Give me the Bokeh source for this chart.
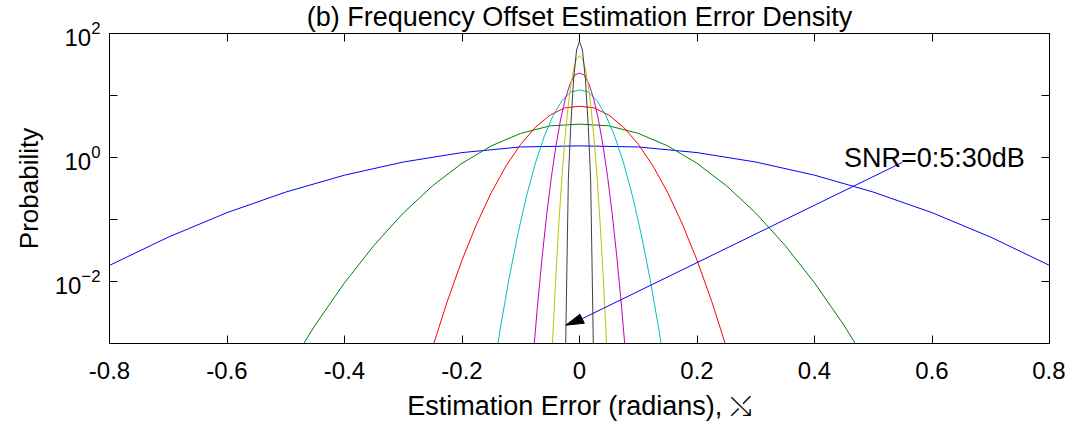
from bokeh.plotting import figure
from bokeh.models import (FixedTicker, LogAxis, LinearAxis, Label, NumeralTickFormatter)
from bokeh.embed import file_html
from bokeh.resources import INLINE

FONT = "Liberation Sans"

# ---- data ----
x_snr0 = [-0.8, -0.7, -0.6, -0.5, -0.4, -0.3, -0.2, -0.1, 0.0, 0.1, 0.2, 0.3, 0.4, 0.5, 0.6, 0.7, 0.8]
p_snr0 = [0.0182, 0.0519, 0.129, 0.277, 0.519, 0.845, 1.20, 1.479, 1.54, 1.479, 1.20, 0.845, 0.519, 0.277, 0.129, 0.0519, 0.0182]

x_snr5 = [-0.5, -0.45, -0.4, -0.35, -0.3, -0.25, -0.2, -0.15, -0.1, -0.05, 0.0, 0.05, 0.1, 0.15, 0.2, 0.25, 0.3, 0.35, 0.4, 0.45, 0.5]
p_snr5 = [0.00034, 0.00198, 0.00952, 0.0381, 0.127, 0.351, 0.807, 1.54, 2.45, 3.24, 3.45, 3.24, 2.45, 1.54, 0.807, 0.351, 0.127, 0.0381, 0.00952, 0.00198, 0.00034]

x_snr10 = [-0.275, -0.25, -0.225, -0.2, -0.175, -0.15, -0.125, -0.1, -0.075, -0.05, -0.025, 0.0,
           0.025, 0.05, 0.075, 0.1, 0.125, 0.15, 0.175, 0.2, 0.225, 0.25, 0.275]
p_snr10 = [0.000132, 0.00087, 0.0048, 0.0221, 0.0849, 0.273, 0.733, 1.64, 3.08, 4.83, 6.32, 6.7,
           6.32, 4.83, 3.08, 1.64, 0.733, 0.273, 0.0849, 0.0221, 0.0048, 0.00087, 0.000132]

x_snr15 = [-0.15, -0.135, -0.12, -0.105, -0.09, -0.075, -0.06, -0.045, -0.03, -0.015, 0.0,
           0.015, 0.03, 0.045, 0.06, 0.075, 0.09, 0.105, 0.12, 0.135, 0.15]
p_snr15 = [0.000211, 0.00171, 0.0111, 0.0579, 0.243, 0.815, 2.19, 4.74, 8.22, 11.4, 12.3,
           11.4, 8.22, 4.74, 2.19, 0.815, 0.243, 0.0579, 0.0111, 0.00171, 0.000211]

x_snr20 = [-0.088, -0.08, -0.072, -0.064, -0.056, -0.048, -0.04, -0.032, -0.024, -0.016, -0.008, 0.0,
           0.008, 0.016, 0.024, 0.032, 0.04, 0.048, 0.056, 0.064, 0.072, 0.08, 0.088]
p_snr20 = [0.0000459, 0.000451, 0.00356, 0.0226, 0.116, 0.475, 1.57, 4.18, 8.95, 15.4, 21.4, 23.0,
           21.4, 15.4, 8.95, 4.18, 1.57, 0.475, 0.116, 0.0226, 0.00356, 0.000451, 0.0000459]

x_snr25 = [-0.05, -0.045, -0.04, -0.035, -0.03, -0.025, -0.02, -0.015, -0.01, -0.005, 0.0,
           0.005, 0.01, 0.015, 0.02, 0.025, 0.03, 0.035, 0.04, 0.045, 0.05]
p_snr25 = [0.000143, 0.00158, 0.0136, 0.0906, 0.470, 1.89, 5.90, 14.3, 26.9, 39.4, 43.0,
           39.4, 26.9, 14.3, 5.90, 1.89, 0.470, 0.0906, 0.0136, 0.00158, 0.000143]

x_snr30 = [-0.026, -0.0235, -0.019, -0.015, -0.01, -0.005, 0.0, 0.005, 0.01, 0.015, 0.019, 0.0235, 0.026]
p_snr30 = [0.0001, 0.001, 0.436, 3.08, 18.5, 54.2, 75.0, 54.2, 18.5, 3.08, 0.436, 0.001, 0.0001]

series_x = [x_snr0, x_snr5, x_snr10, x_snr15, x_snr20, x_snr25, x_snr30]
series_y = [p_snr0, p_snr5, p_snr10, p_snr15, p_snr20, p_snr25, p_snr30]
colors = ["#0000ff", "#008000", "#ff0000", "#00bfbf", "#bf00bf", "#bfbf00", "#404040"]

x_ticks = [-0.8, -0.6, -0.4, -0.2, 0.0, 0.2, 0.4, 0.6, 0.8]
y_major = [0.01, 1.0, 100.0]
y_minor = [0.001, 0.1, 10.0]

title_text = "(b) Frequency Offset Estimation Error Density"
x_label = "Estimation Error (radians), \u292f"
y_label = "Probability"
note_text = "SNR=0:5:30dB"

# annotation arrow (from the note towards the narrowest curve), head as a filled triangle
arrow_start = (0.549, 0.83)
arrow_base = (0.0044, 0.00251)
head_xs = [-0.0233, 0.0082, 0.0007]
head_ys = [0.001974, 0.002125, 0.002970]

# ---- figure ----
p = figure(frame_width=940, frame_height=310, x_range=(-0.8, 0.8), y_range=(1e-3, 1e2),
           y_axis_type="log", output_backend="svg", toolbar_location=None,
           min_border_left=109, min_border_right=16, min_border_top=33, min_border_bottom=76,
           background_fill_color="white", border_fill_color="white")
p.grid.visible = False
p.outline_line_color = "black"
p.outline_line_width = 1

p.title.text = title_text
p.title.text_font = FONT
p.title.text_font_size = "27px"
p.title.text_font_style = "normal"
p.title.text_color = "black"
p.title.align = "center"
p.title.vertical_align = "top"
p.title.standoff = 0

for xs, ys, c in zip(series_x, series_y, colors):
    p.line(xs, ys, line_color=c, line_width=1)

def style_axis(ax, show_labels=True):
    ax.axis_line_color = "black"
    ax.axis_line_width = 1
    ax.major_tick_in = 8
    ax.major_tick_out = 0
    ax.minor_tick_in = 8
    ax.minor_tick_out = 0
    ax.major_tick_line_color = "black"
    ax.minor_tick_line_color = "black"
    if show_labels:
        ax.major_label_text_font = FONT
        ax.major_label_text_font_size = "24px"
        ax.major_label_text_color = "black"
    else:
        ax.major_label_text_font_size = "1px"
        ax.major_label_text_alpha = 0
        ax.major_label_standoff = 0

xa = p.xaxis[0]
xa.ticker = FixedTicker(ticks=x_ticks)
xa.formatter = NumeralTickFormatter(format="0.[0]")
style_axis(xa)
xa.minor_tick_in = 0
xa.major_label_standoff = 18
xa.axis_label = x_label
xa.axis_label_text_font = FONT
xa.axis_label_text_font_size = "27px"
xa.axis_label_text_font_style = "normal"
xa.axis_label_text_color = "black"
xa.axis_label_standoff = 9

ya = p.yaxis[0]
ya.ticker = FixedTicker(ticks=y_major, minor_ticks=y_minor)
style_axis(ya)
ya.major_label_standoff = 9
ya.axis_label = y_label
ya.axis_label_text_font = FONT
ya.axis_label_text_font_size = "26px"
ya.axis_label_text_font_style = "normal"
ya.axis_label_text_color = "black"
ya.axis_label_standoff = 8

top = LinearAxis(ticker=FixedTicker(ticks=x_ticks))
style_axis(top, show_labels=False)
top.minor_tick_in = 0
p.add_layout(top, "above")

right = LogAxis(ticker=FixedTicker(ticks=y_major, minor_ticks=y_minor))
style_axis(right, show_labels=False)
p.add_layout(right, "right")

p.add_layout(Label(x=0.45, y=1.0, text=note_text, text_font=FONT, text_font_size="27px",
                   text_align="left", text_baseline="middle", text_color="black"))

p.segment(x0=[arrow_start[0]], y0=[arrow_start[1]], x1=[arrow_base[0]], y1=[arrow_base[1]],
          line_color="#0000ff", line_width=1)
p.patch(head_xs, head_ys, fill_color="black", line_color="black", line_width=1)

open("out.html", "w").write(file_html(p, INLINE))
